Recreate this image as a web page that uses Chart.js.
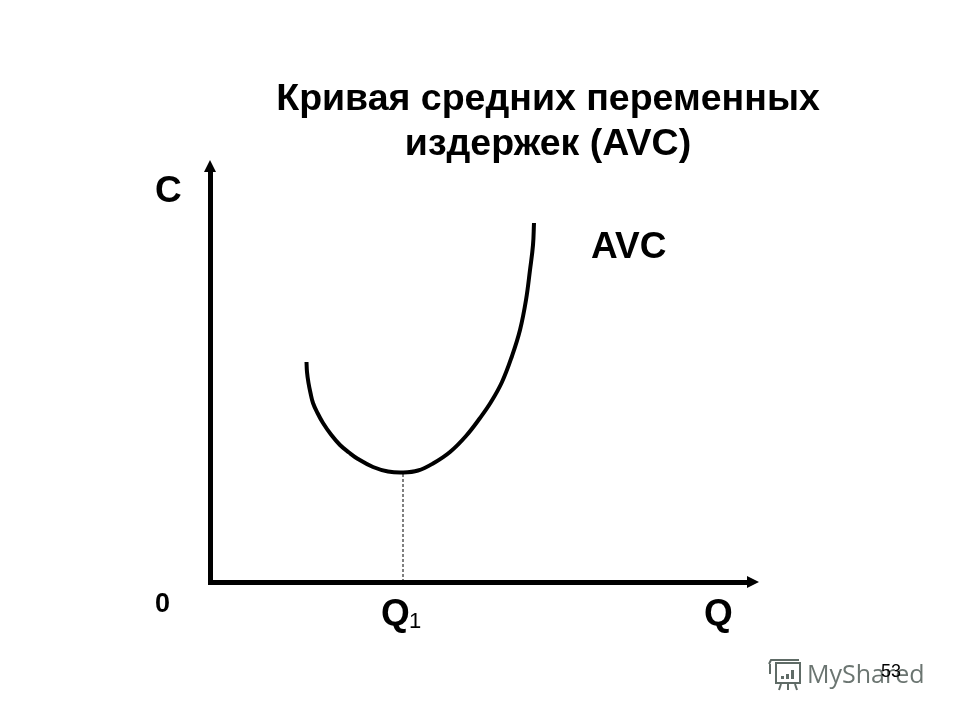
<!DOCTYPE html>
<html>
<head>
<meta charset="utf-8">
<title>AVC</title>
<script src="https://cdn.jsdelivr.net/npm/chart.js@4"></script>
<style>
  body { margin: 0; background: #fff; }
  canvas { display: block; }
</style>
</head>
<body>
<canvas id="avcChart" width="960" height="720"></canvas>
<script>
// values
const curveQ = [19.3, 19.4, 19.7, 20.1, 20.6, 21.5, 22.6, 24.2, 26, 27.8, 29.6, 32.6, 35.6, 38.6, 41.6, 44.6, 48, 51.2, 54, 56.2, 58.4, 60.4, 62, 63.2, 64, 64.6, 64.8];
const curveC = [44, 42, 39.8, 37.8, 35.8, 33.8, 31.8, 29.5, 27.4, 25.9, 24.6, 23, 22.1, 21.9, 22.3, 23.7, 26, 29.2, 32.8, 36, 40, 45.2, 50.4, 56.4, 62.4, 67.4, 71.8];
const guideQ = [38.6, 38.6];
const guideC = [0, 21.9];
const titleLines = ["Кривая средних переменных", "издержек (AVC)"];

const font = '"Liberation Sans", Arial, sans-serif';

function toPoints(xs, ys) {
  return xs.map((x, i) => ({ x: x, y: ys[i] }));
}

function text(ctx, str, x, y, size, opts) {
  opts = opts || {};
  ctx.font = (opts.weight || "bold") + " " + size + "px " + (opts.family || font);
  ctx.fillStyle = opts.color || "#000";
  ctx.textAlign = opts.align || "left";
  ctx.textBaseline = "alphabetic";
  ctx.fillText(str, x, y);
}

// arrow heads, labels and the logo in the corner
const decorations = {
  id: "decorations",
  afterDraw(chart) {
    const ctx = chart.ctx;
    const xs = chart.scales.x;
    const ys = chart.scales.y;
    const left = xs.left, right = xs.right, top = ys.top, bottom = ys.bottom;

    ctx.save();
    ctx.fillStyle = "#000";
    ctx.beginPath();
    ctx.moveTo(left, top - 12);
    ctx.lineTo(left - 6, top);
    ctx.lineTo(left + 6, top);
    ctx.closePath();
    ctx.fill();
    ctx.beginPath();
    ctx.moveTo(right + 12, bottom);
    ctx.lineTo(right, bottom - 6);
    ctx.lineTo(right, bottom + 6);
    ctx.closePath();
    ctx.fill();

    text(ctx, titleLines[0], 548, 110, 37.5, { align: "center" });
    text(ctx, titleLines[1], 548, 155, 37.5, { align: "center" });

    text(ctx, "C", 155, 202, 37);
    text(ctx, "AVC", 591, 258, 37);
    text(ctx, "0", 155, 612, 27);
    text(ctx, "Q", 381, 625, 37);
    text(ctx, "1", 409, 628, 22, { weight: "normal" });
    text(ctx, "Q", 704, 625, 37);

    // watermark logo
    ctx.strokeStyle = "#5f6b66";
    ctx.fillStyle = "#5f6b66";
    ctx.lineWidth = 2;
    ctx.strokeRect(776, 663, 24, 20);
    ctx.beginPath();
    ctx.moveTo(769, 664);
    ctx.lineTo(771, 660);
    ctx.lineTo(799, 660);
    ctx.moveTo(770, 664);
    ctx.lineTo(770, 674);
    ctx.moveTo(781, 684);
    ctx.lineTo(779, 690);
    ctx.moveTo(788, 684);
    ctx.lineTo(788, 690);
    ctx.moveTo(795, 684);
    ctx.lineTo(797, 690);
    ctx.stroke();
    ctx.fillRect(781, 676, 3, 3);
    ctx.fillRect(786, 674, 3, 5);
    ctx.fillRect(791, 670, 3, 9);
    text(ctx, "MyShared", 807, 683, 25, { weight: "normal", color: "#6b7571", family: '"Open Sans", sans-serif' });
    text(ctx, "53", 881, 677, 18, { weight: "normal" });
    ctx.restore();
  },
};

const ctx = document.getElementById("avcChart").getContext("2d");
new Chart(ctx, {
  type: "scatter",
  data: {
    datasets: [
      {
        label: "AVC",
        data: toPoints(curveQ, curveC),
        showLine: true,
        borderColor: "#000",
        borderWidth: 4,
        tension: 0.4,
        pointRadius: 0,
      },
      {
        label: "Q1",
        data: toPoints(guideQ, guideC),
        showLine: true,
        borderColor: "#000",
        borderWidth: 1,
        borderDash: [3, 2],
        pointRadius: 0,
      },
    ],
  },
  options: {
    responsive: false,
    animation: false,
    layout: { padding: { left: 210, right: 213, top: 172, bottom: 138 } },
    plugins: { legend: { display: false }, tooltip: { enabled: false } },
    scales: {
      x: {
        type: "linear",
        min: 0,
        max: 107.4,
        grid: { display: false, drawTicks: false },
        ticks: { display: false },
        border: { display: true, color: "#000", width: 5 },
      },
      y: {
        type: "linear",
        min: 0,
        max: 82,
        grid: { display: false, drawTicks: false },
        ticks: { display: false },
        border: { display: true, color: "#000", width: 5 },
      },
    },
  },
  plugins: [decorations],
});
</script>
</body>
</html>
